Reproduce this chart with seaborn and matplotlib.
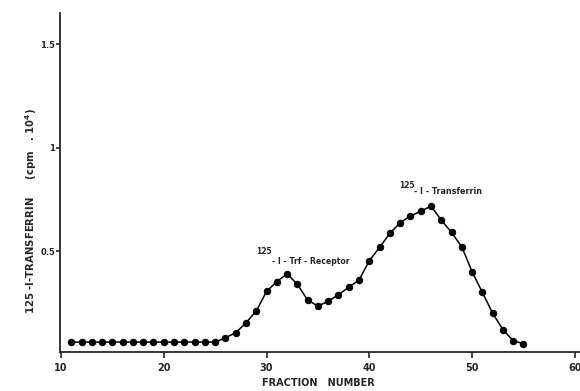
import numpy as np
import pandas as pd
import matplotlib
matplotlib.use("Agg")
import matplotlib.pyplot as plt
import seaborn as sns

# fractions 11..55 and counts (cpm x 10^4)
fraction = list(range(11, 56))
counts = [0.06, 0.06, 0.06, 0.06, 0.06, 0.06, 0.06, 0.06, 0.06, 0.06,
          0.06, 0.06, 0.06, 0.06, 0.06,
          0.081, 0.105, 0.153, 0.21, 0.305, 0.352, 0.39, 0.339, 0.263, 0.234,
          0.257, 0.289, 0.325, 0.36, 0.453, 0.518, 0.585, 0.637, 0.669, 0.692,
          0.717, 0.65, 0.59, 0.52, 0.40, 0.30, 0.20, 0.12, 0.067, 0.052]
xticks = [10, 20, 30, 40, 50, 60]
yticks = [0.5, 1, 1.5]
ytick_labels = ["0.5", "1", "1.5"]

df = pd.DataFrame({"fraction": fraction, "cpm": counts})

sns.set_style("ticks")
plt.rcParams['font.family'] = ['DejaVu Sans']

fig = plt.figure(figsize=(5.8, 3.91), dpi=100)
ax = fig.add_axes([0.1034, 0.0997, 0.8966, 0.867])

sns.lineplot(data=df, x="fraction", y="cpm", color="black", linewidth=1.1,
             marker="o", markersize=4.6, markeredgecolor="black", ax=ax)

ax.set_xlim(9.9, 60.5)
ax.set_ylim(0.012, 1.65)
ax.set_xticks(xticks)
ax.set_yticks(yticks)
ax.set_yticklabels(ytick_labels)

for lab in ax.get_xticklabels():
    lab.set_fontsize(7)
    lab.set_fontweight("bold")
for lab in ax.get_yticklabels():
    lab.set_fontsize(6)
    lab.set_fontweight("bold")

ax.tick_params(axis="x", direction="out", length=4, width=1.2, pad=4)
ax.tick_params(axis="y", direction="out", length=3, width=1.2, pad=0.5)
sns.despine(ax=ax)
for s in ["left", "bottom"]:
    ax.spines[s].set_linewidth(1.3)
ax.set_xlabel("")
ax.set_ylabel("")

fig.text(318 / 580, 1 - 383 / 391, "FRACTION   NUMBER", fontsize=7,
         fontweight="bold", ha="center", va="center")
fig.text(31 / 580, 1 - 211 / 391,
         r"125 -I-TRANSFERRIN     (cpm   . 10$^{\mathbf{4}}$)", fontsize=7.3,
         fontweight="bold", ha="center", va="center", rotation=90)

# peak labels
fig.text(0.441, 0.350, "125", fontsize=5.5, fontweight="bold")
fig.text(0.469, 0.326, "- I - Trf - Receptor", fontsize=5.6, fontweight="bold")
fig.text(0.689, 0.519, "125", fontsize=5.5, fontweight="bold")
fig.text(0.714, 0.504, "- I - Transferrin", fontsize=5.8, fontweight="bold")

fig.savefig("out.png", dpi=100)
